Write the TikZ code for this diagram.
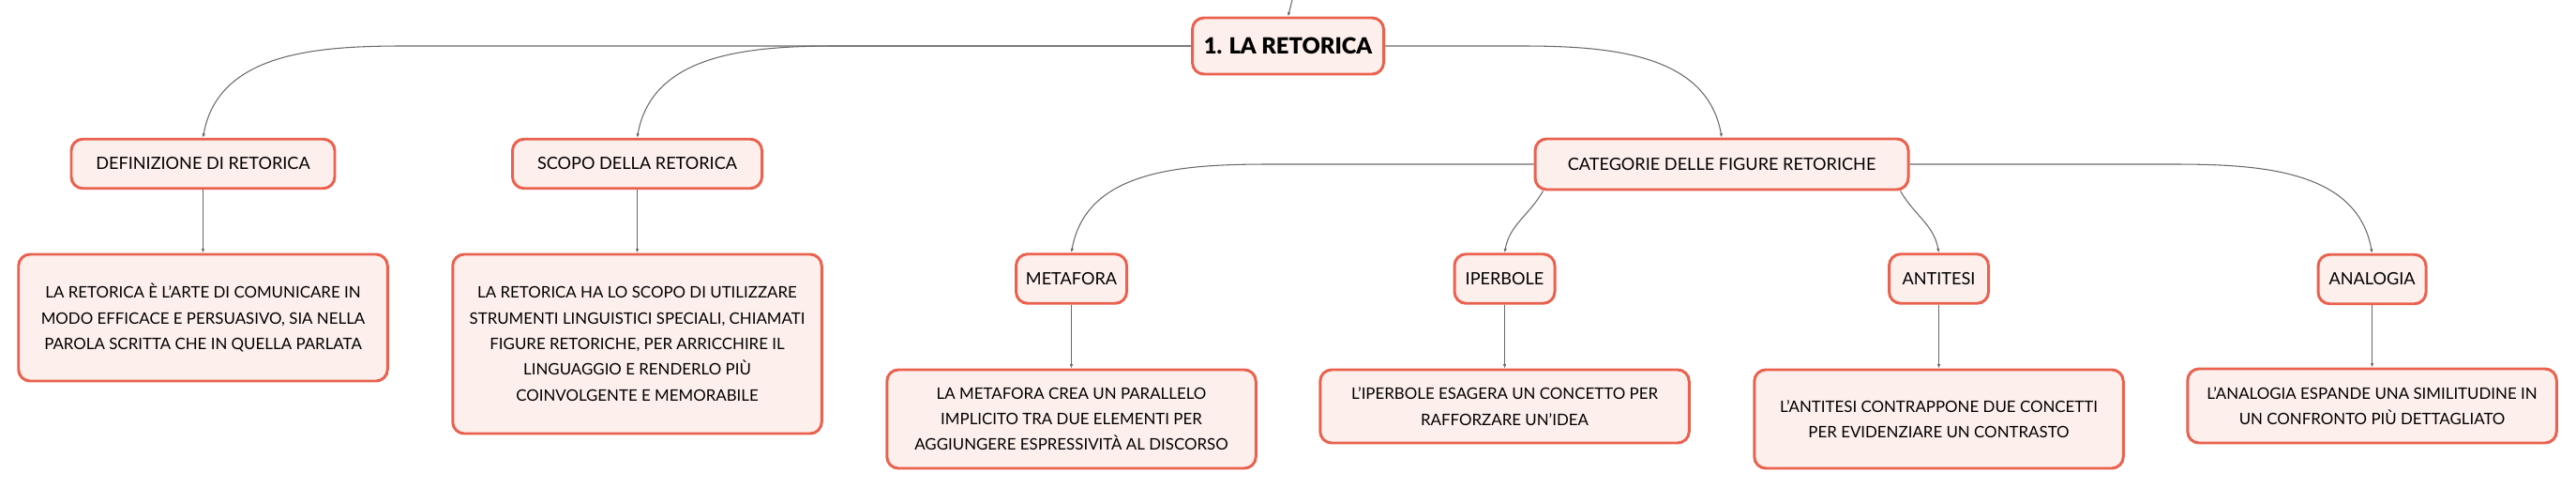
\documentclass[tikz,border=0pt]{standalone}
\usepackage{fontspec}
\setmainfont{Lato}
\newfontfamily\heavyfont{Lato Black}
\usetikzlibrary{arrows.meta, positioning, calc}
\definecolor{boxred}{RGB}{234,98,79}
\definecolor{boxfill}{RGB}{253,240,236}
\definecolor{linkgray}{RGB}{105,105,105}

\begin{document}
\begin{tikzpicture}[
    topic/.style={draw=boxred, fill=boxfill, line width=1.7pt, rounded corners=7pt, inner sep=0pt, minimum height=1.05cm, font=\fontsize{10.3}{12}\selectfont},
    note/.style={topic, minimum width=7.87cm, align=center, font=\fontsize{9.6}{15.6}\selectfont},
    link/.style={draw=linkgray, line width=0.6pt, -{Latex[length=2.5pt,width=2pt]}}
]
    \useasboundingbox (0,0) rectangle (54.94,-10.4);

    % central topic
    \coordinate (up) at (27.56,0);
    \node[topic, minimum width=4.08cm, minimum height=1.2cm, font=\fontsize{13.5}{15}\selectfont\heavyfont] (root) at (27.47,-0.98) {1. LA RETORICA};
    \draw[link] (up) -- (root.north);

    % main branches
    \node[topic, minimum width=5.62cm] (def) at (4.33,-3.49) {DEFINIZIONE DI RETORICA};
    \node[topic, minimum width=5.32cm] (scopo) at (13.59,-3.49) {SCOPO DELLA RETORICA};
    \node[topic, minimum width=7.96cm, minimum height=1.08cm] (cat) at (36.72,-3.5) {CATEGORIE DELLE FIGURE RETORICHE};

    \draw[link] (root.west) -- ($(def.north |- root.west)+(4.3,0)$) to[out=180,in=80] (def.north);
    \draw[link] (root.west) -- ($(scopo.north |- root.west)+(4.3,0)$) to[out=180,in=80] (scopo.north);
    \draw[link] (root.east) -- ($(cat.north |- root.east)+(-4.3,0)$) to[out=0,in=100] (cat.north);

    % notes under the first two branches
    \node[note, minimum height=2.7cm] (defnote) at (4.33,-6.77) {LA RETORICA È L'ARTE DI COMUNICARE IN\\MODO EFFICACE E PERSUASIVO, SIA NELLA\\PAROLA SCRITTA CHE IN QUELLA PARLATA};
    \node[note, minimum height=3.82cm] (scoponote) at (13.59,-7.33) {LA RETORICA HA LO SCOPO DI UTILIZZARE\\STRUMENTI LINGUISTICI SPECIALI, CHIAMATI\\FIGURE RETORICHE, PER ARRICCHIRE IL\\LINGUAGGIO E RENDERLO PIÙ\\COINVOLGENTE E MEMORABILE};
    \draw[link] (def.south) -- (def.south |- defnote.north);
    \draw[link] (scopo.south) -- (scopo.south |- scoponote.north);

    % figures
    \node[topic, minimum width=2.36cm] (meta) at (22.85,-5.94) {METAFORA};
    \node[topic, minimum width=2.14cm] (iper) at (32.09,-5.94) {IPERBOLE};
    \node[topic, minimum width=2.12cm] (anti) at (41.35,-5.94) {ANTITESI};
    \node[topic, minimum width=2.3cm] (analo) at (50.59,-5.95) {ANALOGIA};

    \draw[link] (cat.west) -- ($(meta.north |- cat.west)+(4.3,0)$) to[out=180,in=80] (meta.north);
    \draw[link] ($(cat.south west)+(0.2,0)$) to[out=240,in=80] (iper.north);
    \draw[link] ($(cat.south east)+(-0.2,0)$) to[out=-60,in=100] (anti.north);
    \draw[link] (cat.east) -- ($(analo.north |- cat.east)+(-4.3,0)$) to[out=0,in=100] (analo.north);

    % notes under the figures
    \node[note, minimum height=2.1cm] (metanote) at (22.85,-8.93) {LA METAFORA CREA UN PARALLELO\\IMPLICITO TRA DUE ELEMENTI PER\\AGGIUNGERE ESPRESSIVITÀ AL DISCORSO};
    \node[note, minimum height=1.56cm] (upernote) at (32.09,-8.66) {L'IPERBOLE ESAGERA UN CONCETTO PER\\RAFFORZARE UN'IDEA};
    \node[note, minimum height=2.1cm] (antinote) at (41.35,-8.93) {L'ANTITESI CONTRAPPONE DUE CONCETTI\\PER EVIDENZIARE UN CONTRASTO};
    \node[note, minimum height=1.58cm] (analonote) at (50.59,-8.65) {L'ANALOGIA ESPANDE UNA SIMILITUDINE IN\\UN CONFRONTO PIÙ DETTAGLIATO};

    \draw[link] (meta.south) -- (meta.south |- metanote.north);
    \draw[link] (iper.south) -- (iper.south |- upernote.north);
    \draw[link] (anti.south) -- (anti.south |- antinote.north);
    \draw[link] (analo.south) -- (analo.south |- analonote.north);
\end{tikzpicture}
\end{document}
